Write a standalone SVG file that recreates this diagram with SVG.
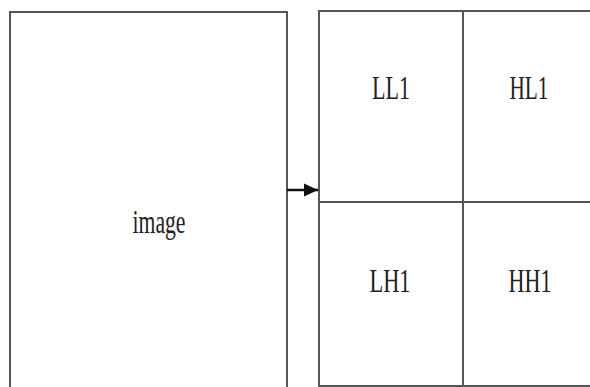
<svg xmlns="http://www.w3.org/2000/svg" width="590" height="387" viewBox="0 0 590 387">
<style>
.box{fill:none;stroke:#555;stroke-width:2}
.lbl{font-family:"Liberation Serif","Times New Roman",serif;font-size:34px;fill:#222;text-anchor:middle}
</style>
<defs>
<marker id="ah" markerWidth="15" markerHeight="15" refX="14" refY="7.5" orient="auto" markerUnits="userSpaceOnUse">
<path d="M0,1 L14,7.5 L0,14 Z" fill="#111"/>
</marker>
</defs>
<rect width="590" height="387" fill="#fff"/>
<g id="image">
<path class="box" d="M10,400 V12 H287 V400"/>
<text class="lbl" x="159" y="233" textLength="53" lengthAdjust="spacingAndGlyphs">image</text>
</g>
<g id="grid">
<path class="box" d="M600,11 H319 V386 H600"/>
<line class="box" x1="463" y1="11" x2="463" y2="386"/>
<line class="box" x1="319" y1="202" x2="600" y2="202"/>
</g>
<g id="LL1"><text class="lbl" x="391" y="99" textLength="38" lengthAdjust="spacingAndGlyphs">LL1</text></g>
<g id="HL1"><text class="lbl" x="529" y="99" textLength="39" lengthAdjust="spacingAndGlyphs">HL1</text></g>
<g id="LH1"><text class="lbl" x="390" y="292" textLength="41" lengthAdjust="spacingAndGlyphs">LH1</text></g>
<g id="HH1"><text class="lbl" x="530" y="292" textLength="43" lengthAdjust="spacingAndGlyphs">HH1</text></g>
<g id="connectors">
<line x1="287" y1="190" x2="318" y2="190" stroke="#111" stroke-width="2.5" marker-end="url(#ah)"/>
</g>
</svg>
